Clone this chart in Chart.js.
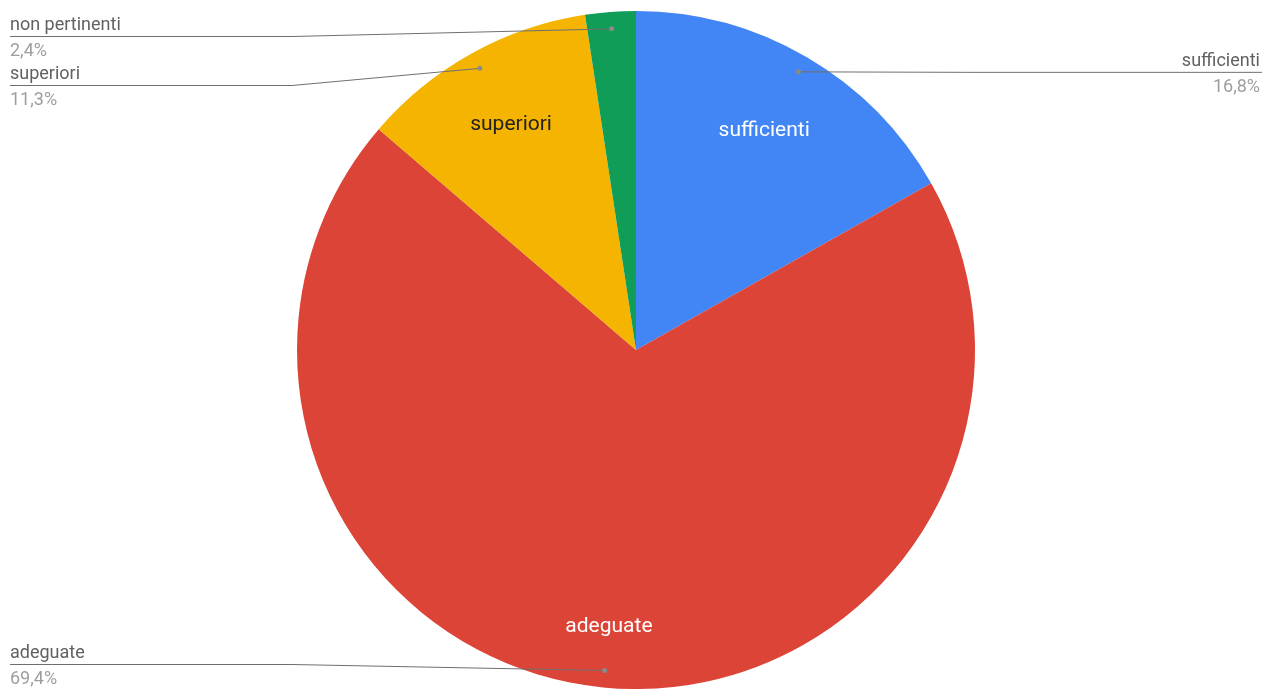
<!DOCTYPE html>
<html>
<head>
<meta charset="utf-8">
<script src="https://cdn.jsdelivr.net/npm/chart.js@4/dist/chart.umd.min.js"></script>
<style>
  html, body { margin: 0; padding: 0; background: #fff; }
  #wrap { width: 1266px; height: 689px; }
</style>
</head>
<body>
<div id="wrap"><canvas id="pie"></canvas></div>
<script>
const categories = ["sufficienti", "adeguate", "superiori", "non pertinenti"];
const shares = [16.8, 69.4, 11.3, 2.4];
const pctLabels = ["16,8%", "69,4%", "11,3%", "2,4%"];
const colors = ["#4285F4", "#DB4437", "#F4B400", "#0F9D58"];

// inner label: radius fraction and text colour (null = no inner label)
const innerPos = [0.75, 0.82, 0.76, null];
const innerColor = ["#ffffff", "#ffffff", "#222222", null];

const calloutPlugin = {
  id: 'callouts',
  afterDatasetsDraw(chart) {
    const ctx = chart.ctx;
    const arcs = chart.getDatasetMeta(0).data;
    const W = chart.width, H = chart.height;
    const items = arcs.map((arc, i) => {
      const mid = (arc.startAngle + arc.endAngle) / 2;
      const r = arc.outerRadius * 0.95;
      return {
        i, mid, arc,
        dx: arc.x + Math.cos(mid) * r,
        dy: arc.y + Math.sin(mid) * r,
        left: Math.cos(mid) < 0
      };
    });

    // stack the line positions on each side
    [true, false].forEach(side => {
      const list = items.filter(o => o.left === side).sort((a, b) => a.dy - b.dy);
      let prev = -Infinity;
      list.forEach(o => {
        o.ly = Math.max(o.dy, prev + 49, 36);
        prev = o.ly;
      });
      for (let k = list.length - 1; k >= 0; k--) {
        const lim = k === list.length - 1 ? H - 25 : list[k + 1].ly - 49;
        list[k].ly = Math.min(list[k].ly, lim);
      }
    });

    ctx.save();
    // inner labels
    ctx.font = '21px Roboto';
    ctx.textAlign = 'center';
    ctx.textBaseline = 'middle';
    items.forEach(o => {
      if (innerPos[o.i] == null) return;
      const r = o.arc.outerRadius * innerPos[o.i];
      ctx.fillStyle = innerColor[o.i];
      ctx.fillText(categories[o.i], o.arc.x + Math.cos(o.mid) * r, o.arc.y + Math.sin(o.mid) * r);
    });

    // callout lines + outer labels
    items.forEach(o => {
      const endX = o.left ? 10 : W - 4;
      const elbowX = o.left ? 292 : W - 292;
      ctx.strokeStyle = '#6f6f6f';
      ctx.lineWidth = 1;
      ctx.beginPath();
      ctx.moveTo(o.dx, o.dy);
      ctx.lineTo(elbowX, o.ly + 0.5);
      ctx.lineTo(endX, o.ly + 0.5);
      ctx.stroke();
      ctx.fillStyle = '#8a8a8a';
      ctx.beginPath();
      ctx.arc(o.dx, o.dy, 2.5, 0, Math.PI * 2);
      ctx.fill();

      const tx = o.left ? 10 : W - 6;
      ctx.font = '18px Roboto';
      ctx.textAlign = o.left ? 'left' : 'right';
      ctx.textBaseline = 'alphabetic';
      ctx.fillStyle = '#616161';
      ctx.fillText(categories[o.i], tx, o.ly - 6);
      ctx.fillStyle = '#9e9e9e';
      ctx.fillText(pctLabels[o.i], tx, o.ly + 20);
    });
    ctx.restore();
  }
};

new Chart(document.getElementById('pie'), {
  type: 'pie',
  data: {
    labels: categories,
    datasets: [{
      data: shares,
      backgroundColor: colors,
      borderWidth: 0
    }]
  },
  options: {
    responsive: true,
    maintainAspectRatio: false,
    animation: false,
    layout: { padding: { top: 11, bottom: 0, left: 6, right: 0 } },
    plugins: {
      legend: { display: false },
      tooltip: { enabled: false }
    }
  },
  plugins: [calloutPlugin]
});
</script>
</body>
</html>
